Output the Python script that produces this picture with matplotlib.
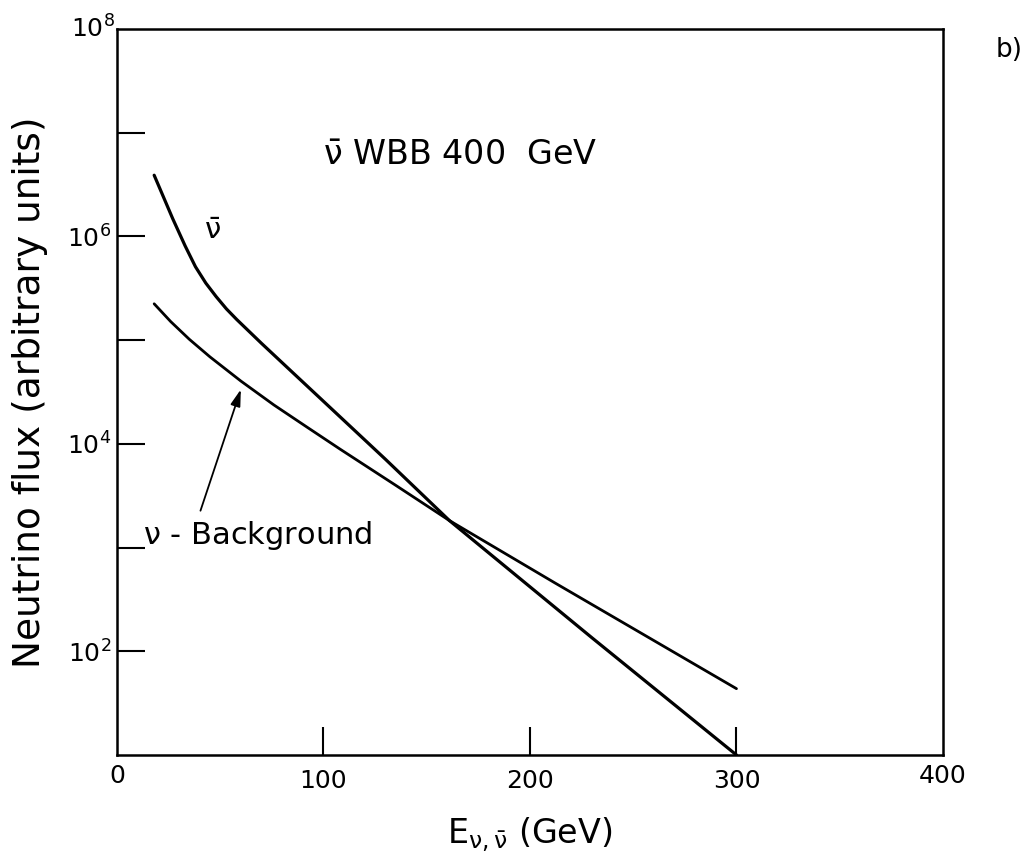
import numpy as np
import matplotlib
matplotlib.use("Agg")
import matplotlib.pyplot as plt

plt.rcParams['font.family'] = ['DejaVu Sans']
plt.rcParams['mathtext.fontset'] = 'dejavusans'

# anti-neutrino flux
e_nubar = [18, 27, 33, 38, 43, 48, 53, 58, 70, 84, 98, 130, 161, 230, 300]
flux_nubar = [3.89e6, 1.48e6, 8.1e5, 5.1e5, 3.55e5, 2.63e5, 2.0e5, 1.58e5, 9.3e4,
              5.1e4, 2.8e4, 7.1e3, 1.82e3, 1.35e2, 1.0e1]

# neutrino background
e_nu = [18, 26, 35, 45, 60, 76, 92, 108, 135, 161, 212, 300]
flux_nu = [2.24e5, 1.51e5, 1.02e5, 6.9e4, 4.03e4, 2.37e4, 1.45e4, 8.9e3, 3.98e3,
           1.82e3, 4.57e2, 4.36e1]

xticks = [0, 100, 200, 300, 400]
ydecades = [1e2, 1e3, 1e4, 1e5, 1e6, 1e7]
ylabels = {1e2: r'$10^2$', 1e4: r'$10^4$', 1e6: r'$10^6$'}

fig = plt.figure(figsize=(10.29, 8.6), dpi=100)
ax = fig.add_axes([0.1137, 0.1221, 0.9164 - 0.1137, 0.9663 - 0.1221])

ax.plot(e_nubar, flux_nubar, color='black', lw=2.3, solid_capstyle='round', solid_joinstyle='round')
ax.plot(e_nu, flux_nu, color='black', lw=2.0, solid_capstyle='round', solid_joinstyle='round')

ax.set_yscale('log')
ax.set_xlim(0, 400)
ax.set_ylim(1e1, 1e8)

ax.set_xticks(xticks[1:-1])
ax.set_xticklabels([str(t) for t in xticks[1:-1]])
ax.set_yticks(ydecades)
ax.set_yticklabels([ylabels.get(v, '') for v in ydecades])
ax.yaxis.set_minor_locator(matplotlib.ticker.NullLocator())
ax.tick_params(direction='in', length=20, width=1.5, labelsize=18)
ax.tick_params(axis='y', pad=4)
ax.tick_params(axis='x', pad=10)
for s in ax.spines.values():
    s.set_linewidth(1.8)

# corner labels (0 / 400 and 10^8) without extra tick marks
ax.text(0, -0.013, '0', transform=ax.transAxes, fontsize=18, ha='center', va='top')
ax.text(1, -0.013, '400', transform=ax.transAxes, fontsize=18, ha='center', va='top')
ax.text(-0.003, 1.0, r'$10^8$', transform=ax.transAxes, fontsize=18, ha='right', va='center')

ax.set_ylabel('Neutrino flux (arbitrary units)', fontsize=27, labelpad=14)
ax.set_xlabel(r'$\mathregular{E_{\nu,\bar{\nu}}}$ (GeV)', fontsize=24, labelpad=16)

ax.text(100, 10**6.78, r'$\mathregular{\bar{\nu}}$ WBB 400  GeV', fontsize=24, va='center', ha='left')
ax.text(46, 10**6.05, r'$\mathregular{\bar{\nu}}$', fontsize=21, va='center', ha='center')
ax.text(12.5, 10**3.12, r'$\mathregular{\nu}$ - Background', fontsize=22, va='center', ha='left')
ax.annotate('', xy=(60.4, 10**4.55), xytext=(40, 10**3.33),
            arrowprops=dict(arrowstyle='-|>,head_length=1.0,head_width=0.3', color='black', lw=1.3))

fig.text(0.968, 0.942, 'b)', fontsize=19, ha='left', va='center')

fig.savefig('out.png', dpi=100)
